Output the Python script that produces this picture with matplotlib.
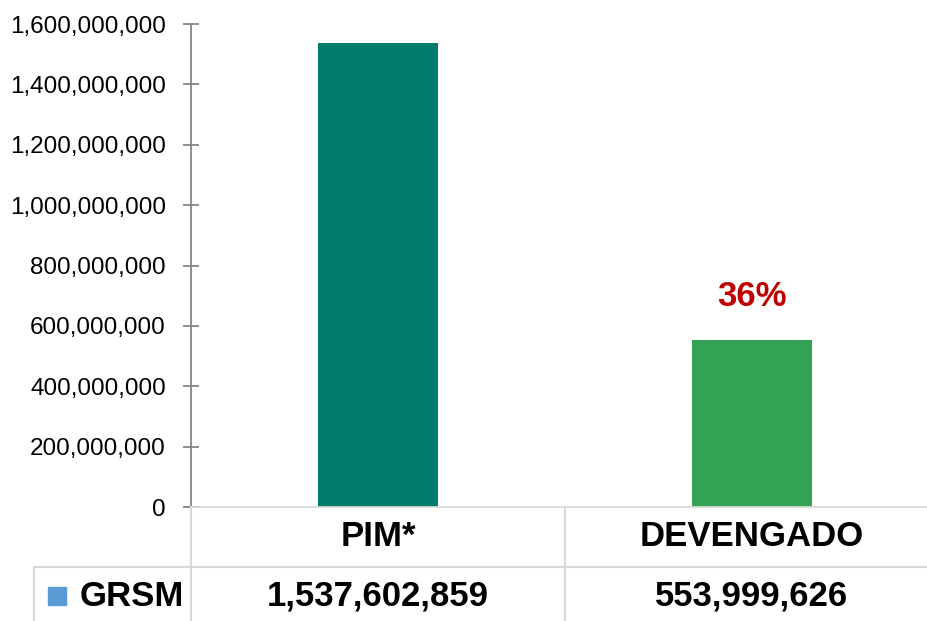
import matplotlib.pyplot as plt
from matplotlib.lines import Line2D
from matplotlib.patches import Rectangle
from matplotlib.ticker import FuncFormatter

categories = ["PIM*", "DEVENGADO"]
values = [1537602859, 553999626]
bar_colors = ["#007D6A", "#33A254"]
series_name = "GRSM"
pct_label = "36%"
yticks = [0, 200000000, 400000000, 600000000, 800000000,
          1000000000, 1200000000, 1400000000, 1600000000]

FONT = ["Liberation Sans Narrow", "Liberation Sans", "DejaVu Sans"]
plt.rcParams["font.family"] = FONT

W, H = 928, 621
fig = plt.figure(figsize=(W / 100, H / 100), dpi=100)

# axes box in pixel coords
left, right, top, bottom = 191, 939, 24, 507
ax = fig.add_axes([left / W, (H - bottom) / H, (right - left) / W, (bottom - top) / H])

x = range(len(categories))
ax.bar(x, values, width=0.32, color=bar_colors)
ax.set_xlim(-0.5, len(categories) - 0.5)
ax.set_ylim(0, 1600000000)
ax.set_yticks(yticks)
ax.yaxis.set_major_formatter(FuncFormatter(lambda v, p: f"{int(v):,}"))
ax.tick_params(axis="y", direction="inout", length=12, width=1.3, color="#868686",
               labelsize=17.5, pad=12, labelcolor="black")
ax.set_xticks([])
for s in ["top", "right"]:
    ax.spines[s].set_visible(False)
ax.spines["left"].set_color("#868686")
ax.spines["left"].set_linewidth(1.3)
ax.spines["bottom"].set_color("#d9d9d9")
ax.spines["bottom"].set_linewidth(1.3)

# percentage label over second bar
ax.annotate(pct_label, (1, values[1]), xytext=(0, 19), textcoords="offset points",
            ha="center", va="bottom", fontsize=25, fontweight="bold", color="#C00000")

# data table under the chart
grid = "#d9d9d9"
def px(xp, yp):
    return xp / W, 1 - yp / H

row1_mid, row_sep, row2_mid = 537, 567, 596
cat_w = (right - left) / len(categories)
for xp in [left, left + cat_w, right]:
    fig.add_artist(Line2D([xp / W] * 2, [1 - bottom / H, 0], color=grid, lw=1.5))
fig.add_artist(Line2D([34 / W, 1], [1 - row_sep / H] * 2, color=grid, lw=1.5))
fig.add_artist(Line2D([34 / W] * 2, [1 - row_sep / H, 0], color=grid, lw=1.5))

for i, (c, v) in enumerate(zip(categories, values)):
    cx = left + cat_w * (i + 0.5)
    fig.text(*px(cx, row1_mid), c, ha="center", va="center", fontsize=25, fontweight="bold")
    fig.text(*px(cx, row2_mid), f"{v:,}", ha="center", va="center", fontsize=25, fontweight="bold")

fig.add_artist(Rectangle(px(48, 605), 18 / W, 18 / H, color="#5B9BD5", transform=fig.transFigure))
fig.text(*px(80, row2_mid), series_name, ha="left", va="center", fontsize=25, fontweight="bold")

fig.savefig("out.png", dpi=100)
